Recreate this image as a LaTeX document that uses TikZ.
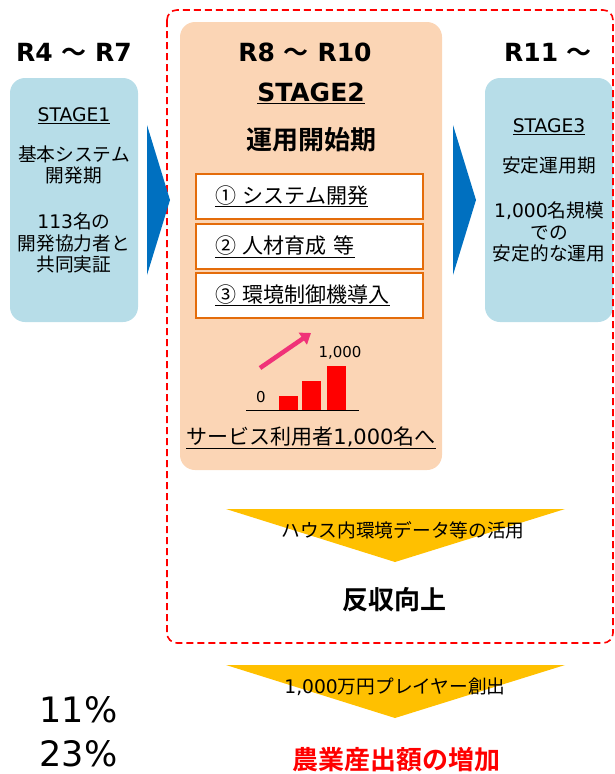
\documentclass[tikz,border=0pt]{standalone}
\usepackage{fontspec}
\setmainfont{Noto Sans CJK JP}[BoldFont={Noto Sans CJK JP Bold}]
\newfontfamily\vfont{DejaVu Sans}
\newcommand\latn[1]{{\vfont #1}}
\usetikzlibrary{arrows.meta}

\definecolor{stageblue}{RGB}{183,221,232}
\definecolor{stagepeach}{RGB}{251,213,181}
\definecolor{itemorange}{RGB}{228,108,10}
\definecolor{arrowblue}{RGB}{0,112,192}
\definecolor{flowyellow}{RGB}{255,192,0}
\definecolor{upink}{RGB}{240,50,120}

\tikzset{
  stagebox/.style={rounded corners=15pt, inner sep=0pt},
  itembox/.style={draw=itemorange, line width=1.6pt, fill=white,
    minimum width=227pt, minimum height=45pt, text width=189pt,
    inner xsep=19pt, align=left, font=\fontsize{21}{24}\selectfont},
  bodytext/.style={align=center, inner sep=0pt, font=\fontsize{18.7}{21.5}\selectfont},
  yeartext/.style={inner sep=0pt, font=\bfseries\fontsize{25}{28}\selectfont},
  pcttext/.style={anchor=base, inner sep=0pt, font=\vfont\fontsize{35}{40}\selectfont}
}

\begin{document}
\begin{tikzpicture}[x=1pt,y=-1pt]
\useasboundingbox (0,0) rectangle (615,774);

% the stage boxes
\node (stage1) [stagebox, fill=stageblue, minimum width=128pt, minimum height=244pt] at (74,200) {};
\node (stage2) [stagebox, fill=stagepeach, minimum width=262pt, minimum height=448pt] at (311,246) {};
\node (stage3) [stagebox, fill=stageblue, minimum width=128pt, minimum height=244pt] at (549,200) {};

% red frame round stage 2
\draw[red, line width=1.6pt, dash pattern=on 7pt off 4pt, rounded corners=10pt]
  (167,10) rectangle (613,643);

% blue arrows between stages
\fill[arrowblue] (147,125) -- (170,200) -- (147,275) -- cycle;
\fill[arrowblue] (453,125) -- (476,200) -- (453,275) -- cycle;

% years
\node (r4)  [yeartext] at (74,52)  {\latn{R4 }～\latn{ R7}};
\node (r8)  [yeartext] at (305,52) {\latn{R8 }～\latn{ R10}};
\node (r11) [yeartext] at (548,52) {\latn{R11 }～};

% stage 1
\node (s1title) [bodytext] at (74,116) {\underline{\latn{STAGE1}}};
\node (s1name)  [bodytext] at (74,165) {基本システム\\開発期};
\node (s1note)  [bodytext] at (74,243) {\latn{113}名の\\開発協力者と\\共同実証};

% stage 2
\node (s2title) [yeartext] at (311,93) {\underline{\latn{STAGE2}}};
\node (s2name)  [font=\bfseries\fontsize{26}{30}\selectfont] at (311,140) {運用開始期};
\node (item1) [itembox] at (309.5,196.5) {\underline{① システム開発}};
\node (item2) [itembox] at (309.5,246.5) {\underline{② 人材育成 等}};
\node (item3) [itembox] at (309.5,295.5) {\underline{③ 環境制御機導入}};

% small bar chart of users
\draw[line width=1pt] (246,410) -- (359,410);
\fill[red] (279,396) rectangle (298,410);
\fill[red] (302,381) rectangle (321,410);
\fill[red] (327,366) rectangle (346,410);
\node (zero) [font=\vfont\fontsize{15}{18}\selectfont] at (261,397) {0};
\node (full) [font=\vfont\fontsize{15}{18}\selectfont] at (340,353) {1,000};
\coordinate (growfrom) at (260,368);
\coordinate (growto) at (311,333);
\draw[upink, line width=4.5pt, -{Triangle[length=10pt,width=14pt]}] (growfrom) -- (growto);
\node (users) [font=\fontsize{21}{24}\selectfont] at (311,438) {\underline{サービス利用者\latn{1,000}名へ}};

% stage 3
\node (s3title) [bodytext] at (549,127) {\underline{\latn{STAGE3}}};
\node (s3name)  [bodytext] at (549,165) {安定運用期};
\node (s3note)  [bodytext] at (549,232) {\latn{1,000}名規模\\での\\安定的な運用};

% yield flow
\fill[flowyellow] (226,509) -- (565,509) -- (395,562) -- cycle;
\node (katsuyo) [font=\fontsize{18.7}{22}\selectfont] at (403,530) {ハウス内環境データ等の活用};
\node (hanshu) [font=\bfseries\fontsize{26}{30}\selectfont] at (394,600) {反収向上};

% output flow
\fill[flowyellow] (226,665) -- (565,665) -- (395,718) -- cycle;
\node (player) [font=\fontsize{18.7}{22}\selectfont] at (395,687) {\latn{1,000}万円プレイヤー創出};
\node (sanshutsu) [red, font=\bfseries\fontsize{26}{30}\selectfont] at (396,760) {農業産出額の増加};

% shares
\node (p11) [pcttext] at (78.5,722) {11\%};
\node (p23) [pcttext] at (78.5,766) {23\%};
\end{tikzpicture}
\end{document}
